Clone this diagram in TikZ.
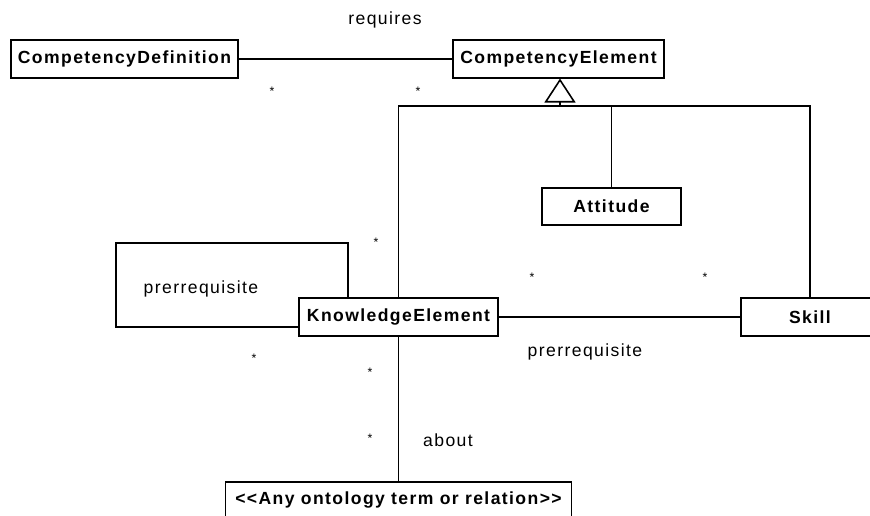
\documentclass[tikz,border=0pt]{standalone}
\usepackage{fontspec}
\setmainfont{Liberation Sans}[LetterSpace=8, Ligatures=TeXOff]
\usetikzlibrary{arrows.meta}

\tikzset{
  umlclass/.style={draw, line width=0.9pt, inner sep=0pt, minimum height=0.75cm, font=\bfseries\fontsize{10}{12}\selectfont},
  umllabel/.style={inner sep=0pt, font=\fontsize{10}{12}\selectfont},
  mult/.style={inner sep=0pt, font=\fontsize{7}{7}\selectfont},
  assoc/.style={line width=0.9pt},
}

\begin{document}
\begin{tikzpicture}[x=0.02cm, y=-0.02cm]
\clip (0,0) rectangle (870,515);
% classes
\node[umlclass, minimum width=4.54cm] (def) at (124.5,59) {CompetencyDefinition};
\node[umlclass, minimum width=4.22cm] (elem) at (558.5,59) {CompetencyElement};
\node[umlclass, minimum width=2.78cm] (att) at (611.5,206.5) {Attitude};
\node[umlclass, minimum width=3.98cm] (know) at (398.5,317) {KnowledgeElement};
\node[umlclass, minimum width=2.76cm] (skill) at (810,317) {Skill};
\node[umlclass, minimum width=6.92cm, minimum height=0.72cm] (onto) at (398.5,500) {{<}{<}Any ontology term or relation{>}{>}};
% generalization
\coordinate (hub) at (560,106);
\draw[assoc, -{Triangle[open, length=0.48cm, width=0.62cm, line width=0.9pt]}] (hub) -- (hub |- elem.south);
\draw[assoc] (know.north) |- (hub) -| (skill.north);
\draw[assoc] (att.north) |- (hub);
% associations
\draw[assoc] (def.east) -- (elem.west);
\draw[assoc] (know.east) -- (skill.west);
\draw[assoc] (know.south) -- (onto.north);
\coordinate (loop) at (116,243);
\draw[assoc] ([xshift=1cm]know.north west) |- (loop) |- ([yshift=-0.2cm]know.west);
% labels
\node[umllabel] (requires) at (385,20) {requires};
\node[umllabel] (prereqself) at (201,289) {prerrequisite};
\node[umllabel] (prereqskill) at (585,352) {prerrequisite};
\node[umllabel] (about) at (448,440) {about};
% multiplicities
\node[mult] (m1) at (272,91) {*};
\node[mult] (m2) at (418,91) {*};
\node[mult] (m3) at (376,242) {*};
\node[mult] (m4) at (532,277) {*};
\node[mult] (m5) at (705,277) {*};
\node[mult] (m6) at (254,358) {*};
\node[mult] (m7) at (370,372) {*};
\node[mult] (m8) at (370,438) {*};
\end{tikzpicture}
\end{document}
